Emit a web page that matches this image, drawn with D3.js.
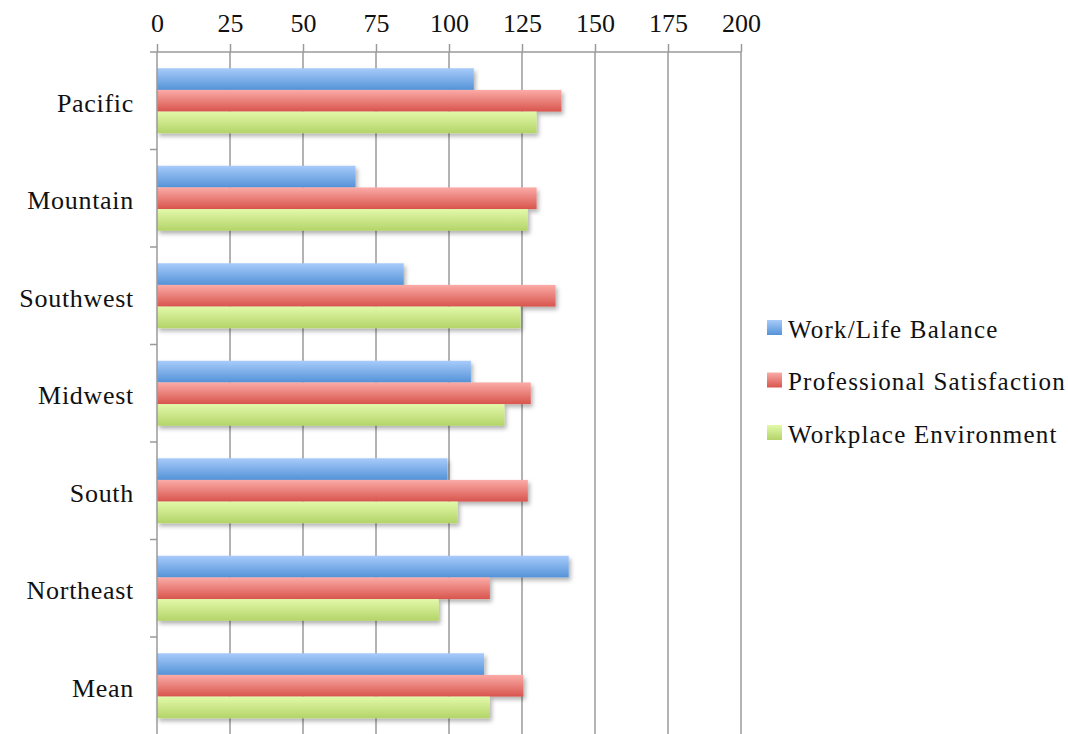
<!DOCTYPE html>
<html>
<head>
<meta charset="utf-8">
<script src="https://cdn.jsdelivr.net/npm/d3@7"></script>
<style>
  body { margin: 0; background: #fff; }
  text { font-family: "Liberation Serif", "DejaVu Serif", serif; fill: #111; }
</style>
</head>
<body>
<div id="chart"></div>
<script>
// Data
const regions = ["Pacific", "Mountain", "Southwest", "Midwest", "South", "Northeast", "Mean"];
const seriesNames = ["Work/Life Balance", "Professional Satisfaction", "Workplace Environment"];
const workLife = [108.5, 68, 84.5, 107.5, 99.5, 141, 112];
const professional = [138.5, 130, 136.5, 128, 127, 114, 125.5];
const workplace = [130, 127, 124.5, 119, 103, 96.5, 114];
const ticks = [0, 25, 50, 75, 100, 125, 150, 175, 200];

const width = 1068, height = 734;
const margin = { top: 52, left: 157, right: 327, bottom: 0 };

// colour stops for each series: light top -> darker bottom
const colors = [
    ["#a8cbfa", "#5493d8"],
    ["#fbaba7", "#d8554d"],
    ["#e3f9aa", "#b3d468"]
];

const svg = d3.select("#chart")
    .append("svg")
    .attr("width", width)
    .attr("height", height);

const defs = svg.append("defs");
colors.forEach((c, i) => {
    const g = defs.append("linearGradient")
        .attr("id", "grad" + i)
        .attr("x1", 0).attr("y1", 0).attr("x2", 0).attr("y2", 1);
    g.append("stop").attr("offset", "0%").attr("stop-color", c[0]);
    g.append("stop").attr("offset", "100%").attr("stop-color", c[1]);
});
defs.append("filter")
    .attr("id", "shadow")
    .attr("x", "-5%").attr("y", "-30%").attr("width", "115%").attr("height", "180%")
    .append("feDropShadow")
    .attr("dx", 2).attr("dy", 3)
    .attr("stdDeviation", 2)
    .attr("flood-color", "#000")
    .attr("flood-opacity", 0.3);

const x = d3.scaleLinear()
    .domain([0, 200])
    .range([margin.left, width - margin.right]);

const y = d3.scaleBand()
    .domain(regions)
    .range([margin.top, margin.top + 97.5 * regions.length]);

const ySub = d3.scaleBand()
    .domain(seriesNames)
    .range([0, y.bandwidth()])
    .paddingInner(0)
    .paddingOuter(0.75);

// vertical gridlines
svg.append("g")
    .selectAll("line")
    .data(ticks.slice(1))
    .enter()
    .append("line")
    .attr("x1", d => x(d))
    .attr("x2", d => x(d))
    .attr("y1", margin.top)
    .attr("y2", height)
    .attr("stroke", "#9a9a9a")
    .attr("stroke-width", 1.5);

// top axis
const xAxis = svg.append("g")
    .attr("transform", `translate(0,${margin.top})`)
    .call(d3.axisTop(x).tickValues(ticks).tickSize(8).tickPadding(12));
xAxis.select(".domain").remove();
xAxis.selectAll(".tick line").attr("stroke", "#9a9a9a").attr("stroke-width", 1.5);
xAxis.selectAll(".tick text")
    .style("font-size", "26px")
    .style("font-family", "'Liberation Serif', serif")
    .attr("fill", "#111");
svg.append("line")
    .attr("x1", margin.left - 7)
    .attr("x2", x(200))
    .attr("y1", margin.top)
    .attr("y2", margin.top)
    .attr("stroke", "#9a9a9a")
    .attr("stroke-width", 1.5);

// bars
const data = regions.map((r, i) => ({
    region: r,
    values: [workLife[i], professional[i], workplace[i]]
}));

const groups = svg.append("g")
    .selectAll("g")
    .data(data)
    .enter()
    .append("g")
    .attr("transform", d => `translate(0,${y(d.region)})`);

groups.selectAll("rect")
    .data(d => d.values.map((v, k) => ({ name: seriesNames[k], value: v, k: k })))
    .enter()
    .append("rect")
    .attr("x", x(0))
    .attr("y", d => ySub(d.name))
    .attr("width", d => x(d.value) - x(0))
    .attr("height", ySub.bandwidth())
    .attr("fill", d => `url(#grad${d.k})`)
    .attr("filter", "url(#shadow)");

// left axis line and ticks between categories
svg.append("line")
    .attr("x1", margin.left)
    .attr("x2", margin.left)
    .attr("y1", margin.top)
    .attr("y2", height)
    .attr("stroke", "#9a9a9a")
    .attr("stroke-width", 1.5);
svg.append("g")
    .selectAll("line")
    .data(regions.slice(1))
    .enter()
    .append("line")
    .attr("x1", margin.left - 7)
    .attr("x2", margin.left)
    .attr("y1", d => y(d))
    .attr("y2", d => y(d))
    .attr("stroke", "#9a9a9a")
    .attr("stroke-width", 1.5);

// category labels
svg.append("g")
    .selectAll("text")
    .data(regions)
    .enter()
    .append("text")
    .attr("x", margin.left - 23)
    .attr("y", d => y(d) + y.bandwidth() / 2 + 2)
    .attr("dy", "0.35em")
    .attr("text-anchor", "end")
    .style("font-size", "26px")
    .style("letter-spacing", "0.7px")
    .text(d => d);

// legend
const legend = svg.append("g")
    .selectAll("g")
    .data(seriesNames)
    .enter()
    .append("g")
    .attr("transform", (d, i) => `translate(767,${328 + i * 52.5})`);
legend.append("rect")
    .attr("x", 0)
    .attr("y", -8)
    .attr("width", 15)
    .attr("height", 15)
    .attr("fill", (d, i) => `url(#grad${i})`);
legend.append("text")
    .attr("x", 21)
    .attr("y", 1)
    .attr("dy", "0.35em")
    .style("font-size", "25px")
    .style("letter-spacing", "1.2px")
    .text(d => d);
</script>
</body>
</html>
